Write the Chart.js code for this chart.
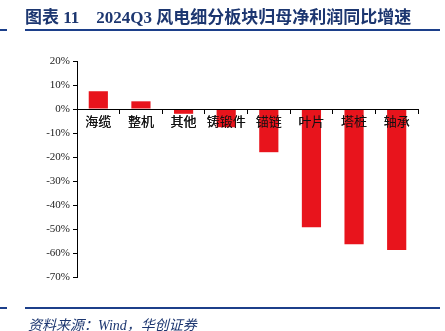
<!DOCTYPE html>
<html>
<head>
<meta charset="utf-8">
<script src="https://cdn.jsdelivr.net/npm/chart.js@4"></script>
<style>
body { margin: 0; background: #fff; }
#wrap { position: relative; width: 445px; height: 331px; overflow: hidden; }
#c { position: absolute; left: 0; top: 0; }
.title { position: absolute; left: 25px; top: 3px; font: bold 17px "Liberation Serif", "Noto Sans CJK SC", serif; color: #1c3670; white-space: pre; }
.line { position: absolute; height: 2px; background: #1c3f8a; }
.src { position: absolute; left: 28px; top: 314px; font: italic 14px "Liberation Serif", "Noto Sans CJK SC", serif; color: #1c3670; }
</style>
</head>
<body>
<div id="wrap">
  <canvas id="c" width="445" height="331"></canvas>
  <div class="title">图表 11    2024Q3 风电细分板块归母净利润同比增速</div>
  <div class="line" style="left:0;top:29px;width:7px"></div>
  <div class="line" style="left:25px;top:29px;width:415px"></div>
  <div class="line" style="left:0;top:307px;width:7px"></div>
  <div class="line" style="left:25px;top:307px;width:415px"></div>
  <div class="src">资料来源：Wind，华创证券</div>
</div>
<script>
var categories = ['海缆', '整机', '其他', '铸锻件', '锚链', '叶片', '塔桩', '轴承'];
var growth = [7.4, 3.2, -2.0, -7.6, -18.0, -49.3, -56.4, -58.8];
var yTicks = [20, 10, 0, -10, -20, -30, -40, -50, -60, -70];

// redraw x axis on top of the bars so the labels stay visible
var axisOnTop = {
  id: 'axisOnTop',
  afterDatasetsDraw: function (chart) {
    chart.scales.x.draw(chart.chartArea);
  }
};

var ctx = document.getElementById('c').getContext('2d');
var myChart = new Chart(ctx, {
  type: 'bar',
  data: {
    labels: categories,
    datasets: [{
      data: growth,
      backgroundColor: '#e8141c',
      barPercentage: 0.45,
      categoryPercentage: 1
    }]
  },
  options: {
    responsive: false,
    animation: false,
    layout: { padding: { top: 61, bottom: 54, right: 27, left: 0 } },
    plugins: { legend: { display: false }, tooltip: { enabled: false } },
    scales: {
      x: {
        position: { y: 0 },
        grid: { drawOnChartArea: false, tickLength: 4, color: '#000', offset: true },
        border: { color: '#000', width: 1 },
        ticks: {
          color: '#111',
          padding: 2,
          maxRotation: 0,
          minRotation: 0,
          autoSkip: false,
          font: { family: 'Liberation Serif, Noto Sans CJK SC', size: 13 }
        }
      },
      y: {
        min: -70,
        max: 20,
        afterFit: function (s) { s.width = 77; },
        afterBuildTicks: function (s) { s.ticks = yTicks.map(function (v) { return { value: v }; }); },
        grid: { drawOnChartArea: false, tickLength: 4, color: '#000' },
        border: { color: '#000', width: 1 },
        ticks: {
          color: '#222',
          padding: 3,
          font: { family: 'Liberation Serif', size: 11 },
          callback: function (v) { return v + '%'; }
        }
      }
    }
  },
  plugins: [axisOnTop]
});
</script>
</body>
</html>
